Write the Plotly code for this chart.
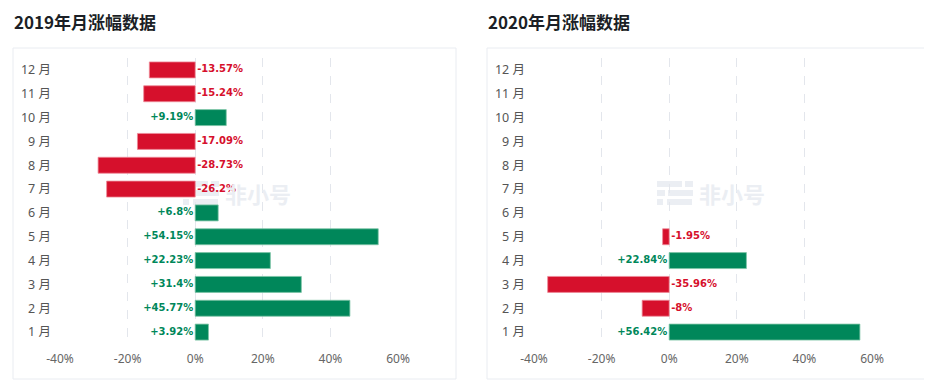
import plotly.graph_objects as go

months = ["1 月", "2 月", "3 月", "4 月", "5 月", "6 月", "7 月", "8 月", "9 月", "10 月", "11 月", "12 月"]
vals_2019 = [3.92, 45.77, 31.4, 22.23, 54.15, 6.8, -26.2, -28.73, -17.09, 9.19, -15.24, -13.57]
vals_2020 = [56.42, -8, -35.96, 22.84, -1.95, None, None, None, None, None, None, None]
titles = ["2019年月涨幅数据", "2020年月涨幅数据"]
tick_vals = [-40, -20, 0, 20, 40, 60]
tick_text = ["-40%", "-20%", "0%", "20%", "40%", "60%"]

GREEN = "#00875A"
RED = "#D6102C"
GREEN_EDGE = "#7CC4A6"
RED_EDGE = "#EE8A98"

# the page places the figure 8px from the window's top-left corner
OFF = 8
W, H = 932 - OFF, 386 - OFF


def px(x):
    return (x - OFF) / W


def py(y):
    return 1 - (y - OFF) / H


fig = go.Figure()

panels = [
    dict(vals=vals_2019, xa="x", ya="y", xdom=(px(60), px(398)), box=(13, 48, 456, 379), title_x=12, wm=183),
    dict(vals=vals_2020, xa="x2", ya="y2", xdom=(px(534), px(872)), box=(487, 48, 930, 379), title_x=486, wm=657),
]
ydom = (py(344), py(58))

shapes = []
annotations = []
for i, p in enumerate(panels):
    vals = p["vals"]
    colors = [GREEN if (v is not None and v >= 0) else RED for v in vals]
    edges = [GREEN_EDGE if (v is not None and v >= 0) else RED_EDGE for v in vals]
    fig.add_trace(go.Bar(
        x=vals, y=months, orientation="h",
        marker=dict(color=colors, line=dict(color=edges, width=0.8)),
        xaxis=p["xa"], yaxis=p["ya"], showlegend=False, hoverinfo="x+y",
    ))
    pos_text = [f"{v:+g}%" if (v is not None and v >= 0) else None for v in vals]
    neg_text = [f"{v:+g}%" if (v is not None and v < 0) else None for v in vals]
    for txt, tpos, col in ((pos_text, "middle left", GREEN), (neg_text, "middle right", RED)):
        fig.add_trace(go.Scatter(
            x=[0 for _ in vals], y=months, mode="markers+text", text=txt,
            textposition=tpos,
            marker=dict(size=1.5, color="rgba(0,0,0,0)"),
            textfont=dict(family="DejaVu Sans", size=10, color=col, weight="bold"),
            xaxis=p["xa"], yaxis=p["ya"], showlegend=False, hoverinfo="skip",
        ))
    x0, y0, x1, y1 = p["box"]
    shapes.append(dict(type="rect", xref="paper", yref="paper",
                       x0=px(x0), x1=px(x1), y0=py(y1), y1=py(y0),
                       line=dict(color="#E9ECF1", width=1), fillcolor="rgba(0,0,0,0)", layer="below"))
    # watermark icon
    wx = p["wm"]
    wm_col = "#EBEEF3"
    rows = [((0, 25), (28, 36), (181, 187)), ((0, 8), (11, 36), (190, 196)), ((0, 6), (10, 35), (199, 205))]
    for a, b, (ya0, ya1) in rows:
        for seg in (a, b):
            shapes.append(dict(type="rect", xref="paper", yref="paper",
                               x0=px(wx + seg[0]), x1=px(wx + seg[1]),
                               y0=py(ya1), y1=py(ya0),
                               line=dict(width=0), fillcolor=wm_col, layer="below"))
    annotations.append(dict(text="<b>非小号</b>", xref="paper", yref="paper",
                            x=px(wx + 40), y=py(193), xanchor="left", yanchor="middle",
                            showarrow=False,
                            font=dict(family="Noto Sans CJK SC", size=22, color=wm_col)))
    annotations.append(dict(text="<b>" + titles[i] + "</b>", xref="paper", yref="paper",
                            x=px(p["title_x"]), y=py(22), xanchor="left", yanchor="middle",
                            showarrow=False,
                            font=dict(family="Noto Sans CJK SC", size=17, color="#1B1F26")))

axis_font = dict(family="Noto Sans, Noto Sans CJK SC", size=12, color="#666666")
ylab_font = dict(family="Noto Sans, Noto Sans CJK SC", size=12.5, color="#555555")
common_x = dict(range=[-40, 60], tickvals=tick_vals, ticktext=tick_text, showgrid=True,
                gridcolor="#E3E6EC", griddash="dash", gridwidth=1, zeroline=False,
                showline=False, ticks="", tickfont=axis_font, fixedrange=True, automargin=False,
                ticklabelstandoff=6)
common_y = dict(range=[-0.5, len(months) - 0.5], showgrid=False, zeroline=False, showline=False,
                ticks="", tickfont=ylab_font,
                ticklabelstandoff=8, categoryorder="array", categoryarray=months, fixedrange=True,
                automargin=False)

fig.update_layout(
    width=W, height=H, margin=dict(l=0, r=0, t=0, b=0, autoexpand=False),
    paper_bgcolor="white", plot_bgcolor="white",
    bargap=0.33,
    xaxis=dict(domain=list(panels[0]["xdom"]), anchor="y", **common_x),
    yaxis=dict(domain=list(ydom), anchor="x", **common_y),
    xaxis2=dict(domain=list(panels[1]["xdom"]), anchor="y2", **common_x),
    yaxis2=dict(domain=list(ydom), anchor="x2", **common_y),
    shapes=shapes, annotations=annotations,
    font=dict(family="Noto Sans, Noto Sans CJK SC"),
)

fig.write_html("out.html")
